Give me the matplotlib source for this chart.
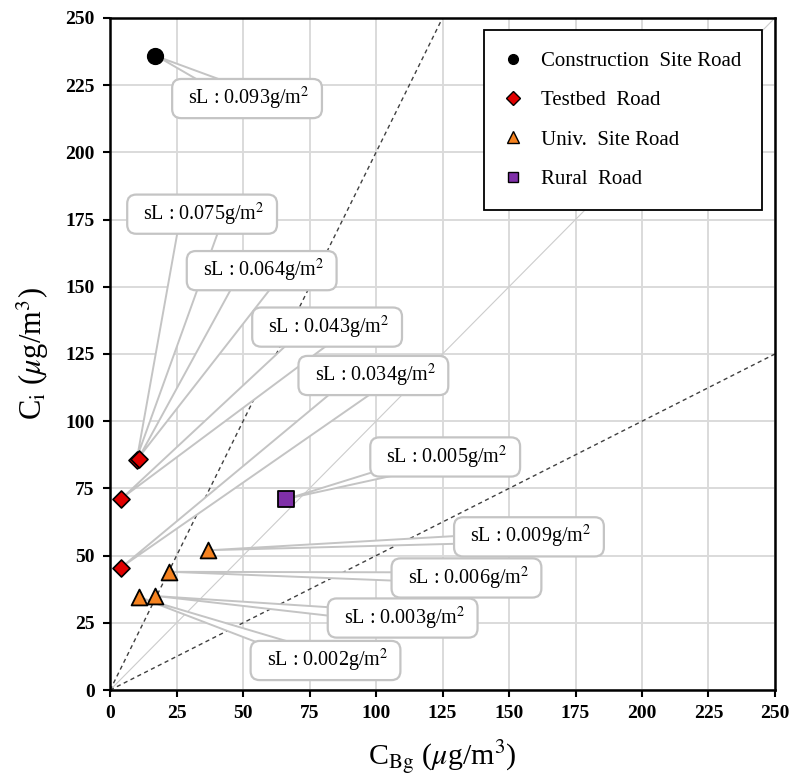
import matplotlib
matplotlib.use("Agg")
import matplotlib.pyplot as plt
from matplotlib.lines import Line2D

plt.rcParams['font.family'] = ['Liberation Serif', 'DejaVu Serif']
plt.rcParams['mathtext.fontset'] = 'stix'

# ---- data ----
construction_x = [17]
construction_y = [236]
testbed_x = [10, 11, 4, 4]
testbed_y = [85.5, 86, 71, 45.5]
univ_x = [37, 22, 17, 11]
univ_y = [52, 44, 35, 34.5]
rural_x = [66]
rural_y = [71]

# callouts: label, point, text position
call_labels = ['0.093', '0.075', '0.064', '0.043', '0.034',
               '0.005', '0.009', '0.006', '0.003', '0.002']
call_pts = [(17, 236), (10, 86), (10.5, 86), (4, 71), (4, 45.5),
            (66, 71), (37, 52), (22, 44), (17, 35), (11, 34.5)]
call_txt = [(51.5, 220), (34.6, 177), (57, 156), (81.6, 135), (99, 117),
            (126, 86.7), (157.5, 57), (134, 41.7), (110, 26.8), (81, 11)]

ratio_dashed = [2.0, 0.5]
ratio_solid = [1.0]
ticks = [0, 25, 50, 75, 100, 125, 150, 175, 200, 225, 250]

# style: tail widths of the callouts at the box centre (font-size units)
tail_w = [0.85, 2.1, 1.8, 1.45, 1.35, 0.7, 0.5, 0.55, 0.6, 0.75]

fig = plt.figure(figsize=(7.92, 7.78), dpi=100)
ax = fig.add_axes([0.139, 0.113, 0.8395, 0.864])
ax.set_xlim(0, 250)
ax.set_ylim(0, 250)
ax.set_xticks(ticks)
ax.set_yticks(ticks)
ax.grid(True, color='#dadada', lw=1.4, zorder=0)
ax.set_axisbelow(True)

for r in ratio_solid:
    ax.axline((0, 0), slope=r, color='#cccccc', lw=0.8, zorder=1)
for r in ratio_dashed:
    ax.axline((0, 0), slope=r, color='#404040', lw=1.0, ls=(0, (3, 2.5)), zorder=1)

for lab, pt, tp, tw in zip(call_labels, call_pts, call_txt, tail_w):
    ax.annotate('  sL : ' + lab + 'g/m$^2$  ', xy=pt, xytext=tp,
                ha='center', va='center', fontsize=14.5, zorder=3,
                bbox=dict(boxstyle='round,pad=0.3,rounding_size=0.45', fc='white', ec='#c4c4c4', lw=1.6),
                arrowprops=dict(arrowstyle='wedge,tail_width=%.2f,shrink_factor=0.5' % tw,
                                fc='white', ec='#c4c4c4', lw=1.4, patchA=None,
                                shrinkA=0, shrinkB=2))

ax.scatter(construction_x, construction_y, s=130, marker='o', c='black', edgecolors='black', zorder=5)
ax.scatter(testbed_x, testbed_y, s=75, marker='D', c='#e00000', edgecolors='black', linewidths=1.2, zorder=5)
ax.scatter(univ_x, univ_y, s=130, marker='^', c='#f5821f', edgecolors='black', linewidths=1.3, zorder=5)
ax.scatter(rural_x, rural_y, s=130, marker='s', c='#7f2fa8', edgecolors='black', linewidths=1.3, zorder=5)

handles = [
    Line2D([], [], ls='none', marker='o', color='black', markersize=7),
    Line2D([], [], ls='none', marker='D', markerfacecolor='#e00000', markeredgecolor='black', markersize=7),
    Line2D([], [], ls='none', marker='^', markerfacecolor='#f5821f', markeredgecolor='black', markersize=8),
    Line2D([], [], ls='none', marker='s', markerfacecolor='#7f2fa8', markeredgecolor='black', markersize=7),
]
labels = ['Construction  Site Road', 'Testbed  Road', 'Univ.  Site Road', 'Rural  Road']
leg = ax.legend(handles, labels, loc='upper right', fontsize=15, frameon=True, fancybox=False,
                edgecolor='black', framealpha=1, borderpad=1.0, labelspacing=0.95,
                handlelength=0.8, handletextpad=0.95, borderaxespad=0.6)
leg.get_frame().set_linewidth(1.3)
leg.set_zorder(10)

for s in ax.spines.values():
    s.set_linewidth(1.8)
ax.tick_params(direction='out', length=5, width=1.5, labelsize=14, pad=6)
for t in ax.get_xticklabels() + ax.get_yticklabels():
    t.set_fontweight('bold')

ax.set_xlabel(r'C$_{\mathrm{Bg}}$ ($\mu$g/m$^3$)', fontsize=21.5, labelpad=12)
ax.set_ylabel(r'C$_{\mathrm{i}}$ ($\mu$g/m$^3$)', fontsize=22, labelpad=10)

fig.savefig('out.png', dpi=100)
